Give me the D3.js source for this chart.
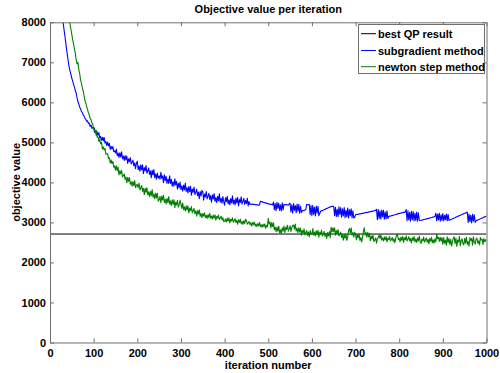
<!DOCTYPE html>
<html><head><meta charset="utf-8">
<script src="https://cdn.jsdelivr.net/npm/d3@7"></script>
<style>
body{margin:0;background:#fff}
text{font-family:"Liberation Sans",Arial,Helvetica,sans-serif;}
</style>
</head><body>
<svg id="c" width="500" height="373"></svg>
<script>
const iterations = d3.range(0, 1001, 2);
const subgradient = [
16000,14800,13800,12900,12000,11000,10400,9950,9600,9280,9000,8750,8520,8330,8160,8000,7830,7670,7500,7330,7170,7010,6880,6780,6690,
6600,6530,6450,6380,6300,6230,6110,6020,5960,5880,5840,5770,5750,5680,5660,5600,5580,5530,5540,5470,5480,5400,5430,5350,5370,
5364,5252,5290,5172,5264,5182,5244,5108,5146,5052,5126,5038,5124,4982,5020,4926,5006,4912,4974,4826,4900,4836,4898,4768,4788,
4736,4834,4668,4734,4624,4738,4636,4766,4592,4658,4548,4670,4560,4658,4476,4590,4520,4618,4460,4502,4552,4418,4484,4342,4480,
4530,4320,4410,4280,4440,4310,4440,4220,4370,4290,4420,4230,4290,4360,4200,4290,4120,4300,4190,4320,4120,4210,4080,4230,4110,
4160,4080,4251,4101,4162,3992,4192,4043,4153,3974,4084,3974,4165,3975,4076,3906,4016,3907,4087,3938,4028,3828,3979,3869,4010,
3820,3911,3782,3933,3814,3985,3776,3867,3738,3899,3770,3901,3682,3833,3754,3885,3696,3757,3828,3669,3760,3591,3772,3663,3794,
3770,3555,3711,3636,3772,3587,3652,3728,3573,3669,3504,3689,3585,3720,3526,3621,3496,3652,3537,3713,3508,3603,3479,3644,3520,
3430,3618,3517,3655,3463,3562,3440,3598,3486,3665,3463,3561,3440,3608,3486,3624,3413,3571,3499,3638,3456,3524,3603,3451,3549,
3470,3600,3410,3520,3450,3462,3450,3458,3446,3452,3440,3447,3436,3442,3430,3436,3530,3515,3520,3500,3502,3488,3490,3474,3476,
3466,3455,3460,3446,3450,3438,3510,3320,3470,3290,3500,3350,3480,3300,3440,3290,3490,3310,3450,3440,3448,3436,3444,3432,3460,
3480,3260,3440,3230,3470,3300,3420,3240,3460,3280,3450,3230,3400,3250,3290,3300,3295,3310,3320,3450,3440,3445,3450,3190,3420,
3170,3430,3200,3380,3160,3410,3230,3400,3170,3220,3280,3296,3290,3312,3318,3326,3344,3340,3362,3366,3380,3392,3388,3402,3405,
3400,3170,3380,3150,3330,3140,3390,3200,3370,3130,3340,3160,3370,3120,3300,3140,3360,3110,3320,3170,3340,3110,3290,3110,3130,
3190,3200,3198,3210,3206,3218,3214,3226,3222,3236,3232,3244,3240,3254,3250,3264,3260,3274,3270,3284,3280,3292,3290,3302,3330,
3070,3320,3100,3290,3080,3310,3140,3300,3080,3260,3090,3290,3100,3150,3160,3156,3170,3168,3180,3186,3192,3200,3206,3214,3220,
3222,3232,3230,3242,3240,3252,3250,3262,3320,3040,3290,3060,3250,3030,3280,3070,3270,3040,3230,3050,3260,3030,3240,3060,3050,
3052,3062,3060,3074,3072,3082,3090,3088,3102,3100,3114,3118,3124,3132,3130,3144,3150,3230,3040,3210,3060,3230,3030,3190,3050,
3220,3040,3180,3070,3210,3040,3200,3050,3060,3072,3078,3092,3098,3112,3118,3132,3138,3152,3158,3172,3178,3192,3198,3212,3220,
3230,3238,3240,3260,3000,3210,3020,3180,2990,3200,3030,3190,3000,3040,3052,3058,3072,3078,3092,3098,3112,3118,3132,3138,3150,
3160
];
const newton = [
20000,18500,17200,16000,15000,14100,13300,12600,12000,11400,10900,10450,10050,9700,9400,9150,8920,8720,8540,8380,8250,8120,8060,7940,7820,
7700,7560,7460,7330,7230,7060,6960,7000,6820,6720,6560,6480,6370,6290,6170,6050,5980,5900,5820,5740,5680,5600,5570,5490,5450,
5320,5364,5246,5302,5130,5138,5022,5080,4964,5004,4834,4890,4808,4852,4704,4706,4718,4592,4616,4484,4562,4472,4526,4382,4412,
4308,4418,4296,4382,4188,4290,4212,4302,4136,4170,4212,4074,4136,3990,4124,4026,4122,3954,4018,3906,4018,3915,4044,3869,3934,
3945,3870,3984,3810,3861,3921,3774,3852,3696,3855,3753,3868,3686,3765,3646,3779,3669,3820,3629,3708,3589,3732,3614,3730,3531,
3566,3648,3495,3658,3560,3677,3498,3580,3463,3599,3492,3645,3457,3539,3422,3567,3451,3568,3371,3507,3435,3553,3383,3437,3560,
3448,3352,3487,3319,3391,3286,3414,3310,3413,3237,3357,3292,3396,3244,3291,3347,3219,3290,3154,3298,3209,3313,3153,3224,3120,
3222,3158,3239,3121,3177,3101,3194,3124,3228,3104,3161,3085,3183,3107,3188,3058,3150,3104,3185,3073,3111,3155,3062,3118,3018,
3028,3085,3010,3109,3034,3115,2986,3079,3035,3116,3005,3044,3089,2996,3053,2954,3065,3002,3084,2967,3024,2949,3042,2973,3078,
3050,2956,2988,3024,2945,2991,2908,2999,2945,3011,2913,2959,2895,2971,2913,2999,2895,2941,2878,2959,2895,2961,2853,2929,2890,
3102,2957,3012,2864,2996,2896,2988,2816,2881,2770,2883,2780,2909,2739,2814,2713,2864,2783,2910,2747,2880,2824,2931,2782,2838,
2918,2776,2866,2930,2933,2830,2959,2784,2852,2744,2868,2760,2860,2682,2800,2736,2840,2690,2740,2800,2677,2762,2639,2796,2721,
2705,2846,2683,2760,2661,2794,2695,2804,2633,2758,2699,2808,2661,2714,2775,2652,2729,2598,2747,2664,2773,2618,2876,2760,2868,
2768,2865,2682,2795,2724,2821,2662,2706,2758,2626,2694,2554,2696,2606,2710,2551,2621,2800,2848,2740,2864,2684,2746,2633,2754,
2707,2566,2706,2614,2714,2550,2618,2511,2628,2780,2864,2684,2746,2632,2750,2636,2730,2546,2658,2586,2682,2522,2563,2612,2482,
2602,2620,2686,2600,2688,2558,2613,2536,2638,2561,2645,2514,2610,2566,2648,2538,2578,2624,2532,2590,2492,2604,2672,2716,2572,
2601,2517,2636,2552,2650,2503,2615,2566,2664,2538,2587,2643,2538,2598,2486,2619,2549,2647,2514,2584,2500,2612,2535,2661,2521,
2473,2585,2536,2634,2508,2557,2613,2508,2578,2466,2599,2529,2627,2494,2564,2480,2592,2515,2710,2591,2631,2527,2626,2532,2620,
2450,2620,2480,2560,2430,2640,2500,2600,2450,2580,2410,2520,2610,2640,2470,2610,2400,2560,2510,2650,2420,2540,2590,2470,2440,
2600,2480,2630,2450,2520,2410,2620,2550,2600,2430,2640,2500,2460,2580,2610,2480,2540,2440,2620,2560,2580,2450,2600,2520,2570,
2520
];
const bestQP = 2710;
const xTicks = [0,100,200,300,400,500,600,700,800,900,1000];
const yTicks = [0,1000,2000,3000,4000,5000,6000,7000,8000];
const seriesNames = ["best QP result","subgradient method","newton step method"];
const seriesColors = ["#000000","#0000ff","#008000"];
const titleText = "Objective value per iteration";
const xLabel = "iteration number";
const yLabel = "objective value";

// ---- layout ----
const svg = d3.select("#c");
const L = 50, R = 486.5, T = 22.3, B = 342.5;
const x = d3.scaleLinear().domain([0,1000]).range([L,R]);
const y = d3.scaleLinear().domain([0,8000]).range([B,T]);
const axisColor = "#6e6e6e";
const fs = "11px";
const fmt = d3.format("d");

svg.append("rect").attr("x",0).attr("y",0).attr("width",500).attr("height",373).attr("fill","#fff");
svg.append("defs").append("clipPath").attr("id","clip")
  .append("rect").attr("x",L).attr("y",T).attr("width",R-L).attr("height",B-T);

const g = svg.append("g").attr("clip-path","url(#clip)");
g.append("line").attr("x1",x(0)).attr("x2",x(1000)).attr("y1",y(bestQP)).attr("y2",y(bestQP))
  .attr("stroke",seriesColors[0]).attr("stroke-width",1);
const line = d3.line().defined((d,i)=>i<iterations.length).x((d,i)=>x(iterations[i])).y(d=>y(d));
g.append("path").datum(subgradient).attr("d",line).attr("fill","none")
  .attr("stroke",seriesColors[1]).attr("stroke-width",1.1).attr("stroke-linejoin","round");
g.append("path").datum(newton).attr("d",line).attr("fill","none")
  .attr("stroke",seriesColors[2]).attr("stroke-width",1.1).attr("stroke-linejoin","round");

function styleAxis(sel){
  sel.select(".domain").attr("stroke",axisColor);
  sel.selectAll(".tick line").attr("stroke",axisColor);
  sel.selectAll("text").attr("fill","#000").style("font-size",fs).style("font-weight","bold");
}
const xb = svg.append("g").attr("transform",`translate(0,${B})`)
  .call(d3.axisBottom(x).tickValues(xTicks).tickFormat(fmt).tickSizeInner(-4).tickSizeOuter(0).tickPadding(7));
styleAxis(xb);
const xt = svg.append("g").attr("transform",`translate(0,${T})`)
  .call(d3.axisTop(x).tickValues(xTicks).tickSizeInner(-4).tickSizeOuter(0).tickFormat(""));
styleAxis(xt);
const yl = svg.append("g").attr("transform",`translate(${L},0)`)
  .call(d3.axisLeft(y).tickValues(yTicks).tickFormat(fmt).tickSizeInner(-4).tickSizeOuter(0).tickPadding(4));
styleAxis(yl);
const yr = svg.append("g").attr("transform",`translate(${R},0)`)
  .call(d3.axisRight(y).tickValues(yTicks).tickSizeInner(-4).tickSizeOuter(0).tickFormat(""));
styleAxis(yr);

svg.append("text").attr("x",(L+R)/2).attr("y",13).attr("text-anchor","middle")
  .style("font-size",fs).style("font-weight","bold").text(titleText);
svg.append("text").attr("x",(L+R)/2).attr("y",369).attr("text-anchor","middle")
  .style("font-size",fs).style("font-weight","bold").text(xLabel);
svg.append("text").attr("transform",`translate(20,${(T+B)/2}) rotate(-90)`).attr("text-anchor","middle")
  .style("font-size",fs).style("font-weight","bold").text(yLabel);

const lg = svg.append("g");
lg.append("rect").attr("x",358.5).attr("y",24.5).attr("width",126).attr("height",49)
  .attr("fill","#fff").attr("stroke",axisColor).attr("stroke-width",1);
const rowsY = [33.7,50.5,66.7];
seriesNames.forEach((n,i)=>{
  lg.append("line").attr("x1",361).attr("x2",376).attr("y1",rowsY[i]).attr("y2",rowsY[i])
    .attr("stroke",seriesColors[i]).attr("stroke-width",1);
  lg.append("text").attr("x",378).attr("y",rowsY[i]+4).style("font-size",fs)
    .style("font-weight","bold").text(n);
});
</script>
</body></html>
